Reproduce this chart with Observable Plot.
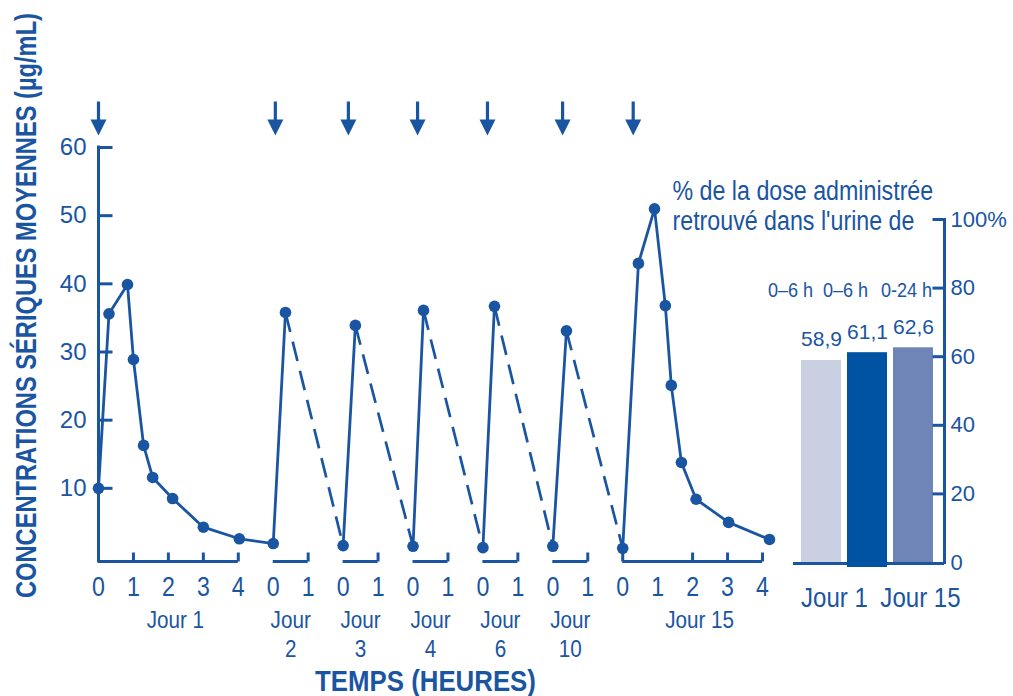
<!DOCTYPE html>
<html><head><meta charset="utf-8">
<script src="https://cdn.jsdelivr.net/npm/d3@7"></script>
<script src="https://cdn.jsdelivr.net/npm/@observablehq/plot@0.6"></script>
<style>
html,body{margin:0;padding:0;background:#fff;}
#wrap{position:relative;width:1013px;height:696px;overflow:hidden;background:#fff;}
#wrap svg{position:absolute;left:0;top:0;}
</style></head><body><div id="wrap"></div>
<script>
// ---------- data ----------
const days = ["Jour 1","Jour 2","Jour 3","Jour 4","Jour 6","Jour 10","Jour 15"];
const dayOffset = [0,5,7,9,11,13,15];      // hour 0 of each day on the broken time axis
const daySpan = [4,1,1,1,1,1,4];
const dayTickHours = [[1,2,3,4],[1],[1],[1],[1],[1],[0,2,3,4]];
const dayLabelHours = [[0,1,2,3,4],[0,1],[0,1],[0,1],[0,1],[0,1],[0,1,2,3,4]];
const dayNames = ["Jour 1","Jour\n2","Jour\n3","Jour\n4","Jour\n6","Jour\n10","Jour 15"];

const jour1Hours = [0, 0.3, 0.83, 1.0, 1.29, 1.55, 2.12, 3.0, 4.03];
const jour1Conc  = [10, 35.6, 39.9, 28.9, 16.3, 11.6, 8.5, 4.3, 2.6];

const midDays    = ["Jour 2","Jour 3","Jour 4","Jour 6","Jour 10"];
const troughConc = [1.9, 1.6, 1.5, 1.3, 1.5];
const peakHour   = [0.35, 0.35, 0.3, 0.33, 0.39];
const peakConc   = [35.8, 33.9, 36.1, 36.7, 33.1];

const jour15Hours = [0, 0.45, 0.91, 1.22, 1.39, 1.68, 2.1, 3.03, 4.2];
const jour15Conc  = [1.2, 43.0, 51.0, 36.8, 25.1, 13.8, 8.4, 5.0, 2.5];

const doseHours = [0, 0.06, 0.15, 0.13, 0.13, 0.28, 0.3];

const concTicks = [10,20,30,40,50,60];

const barKeys    = ["a","b","c"];
const barPeriods = ["0–6 h","0–6 h","0-24 h"];
const barDays    = ["Jour 1","Jour 1","Jour 15"];
const barValues  = [58.9, 61.1, 62.6];
const barLabels  = ["58,9","61,1","62,6"];
const barColors  = ["#c9d0e2","#0052a3","#6f85b7"];
const pctTicks   = [0,20,40,60,80,100];
const pctTickLabels = ["0","20","40","60","80","100%"];

const yTitle = "CONCENTRATIONS SÉRIQUES MOYENNES (µg/mL)";
const xTitle = "TEMPS (HEURES)";
const barTitle = "% de la dose administrée\nretrouvé dans l'urine de";

// ---------- derived tables ----------
const blue = "#1a55a2";
const NARROW = "'Liberation Sans', narrowed";   // condensed after rendering
const REG = "'Liberation Sans', Arial, sans-serif";

const points = [];
jour1Hours.forEach((h,i)=>points.push({v: dayOffset[0]+h, conc: jour1Conc[i], seg: 0}));
midDays.forEach((d,i)=>{
  const k = days.indexOf(d);
  points.push({v: dayOffset[k], conc: troughConc[i], seg: i});
  points.push({v: dayOffset[k]+peakHour[i], conc: peakConc[i], seg: i});
});
jour15Hours.forEach((h,i)=>points.push({v: dayOffset[6]+h, conc: jour15Conc[i], seg: 5}));

const dashes = midDays.map((d,i)=>{
  const k = days.indexOf(d);
  const x1 = dayOffset[k]+peakHour[i], y1 = peakConc[i];
  let x2, y2;
  if (i < midDays.length-1) { const k2 = days.indexOf(midDays[i+1]); x2 = dayOffset[k2]; y2 = troughConc[i+1]; }
  else { x2 = dayOffset[6]+jour15Hours[0]; y2 = jour15Conc[0]; }
  return {x1,y1,x2,y2};
});

const axisSegs = days.map((d,i)=>({start: dayOffset[i], end: dayOffset[i]+daySpan[i]}));
const xTicks = days.flatMap((d,i)=>dayTickHours[i].map(h=>({v: dayOffset[i]+h})));
const xLabels = days.flatMap((d,i)=>dayLabelHours[i].map(h=>({v: dayOffset[i]+h, label: String(h)})));
const dayLabelData = days.map((d,i)=>({v: dayOffset[i]+daySpan[i]/2 + (daySpan[i]>1?0.2:0), label: dayNames[i]}));
const doses = days.map((d,i)=>({v: dayOffset[i]+doseHours[i]}));

const bars = barKeys.map((k,i)=>({key:k, period:barPeriods[i], day:barDays[i], value:barValues[i], label:barLabels[i], color:barColors[i]}));

// ---------- symbols ----------
const tickUp = {draw(c){ c.moveTo(0,0); c.lineTo(0,-9); }};
const tickRight = {draw(c){ c.moveTo(0,0); c.lineTo(14,0); }};
const tickLeft = {draw(c){ c.moveTo(0,0); c.lineTo(-12,0); }};
const doseArrow = {draw(c){
  c.moveTo(-1.6,-46); c.lineTo(1.6,-46); c.lineTo(1.6,-28); c.lineTo(8,-28);
  c.lineTo(0,-12); c.lineTo(-8,-28); c.lineTo(-1.6,-28); c.closePath();
}};

// ---------- left chart ----------
const left = Plot.plot({
  width: 1013, height: 696,
  marginLeft: 98, marginRight: 251, marginTop: 147, marginBottom: 135,
  style: {background: "transparent", overflow: "visible"},
  x: {domain: [0,19], range: [98,762], axis: null},
  y: {domain: [0,60], range: [556,147], axis: null},
  marks: [
    Plot.ruleX([0], {stroke: blue, strokeWidth: 3, strokeLinecap: "square"}),
    Plot.ruleY(axisSegs, {x1: "start", x2: "end", y: () => 0, dy: 5, stroke: blue, strokeWidth: 3}),
    Plot.dot(xTicks, {x: "v", frameAnchor: "bottom", symbol: tickUp, stroke: blue, strokeWidth: 3, fill: "none"}),
    Plot.dot(concTicks, {y: d=>d, frameAnchor: "left", symbol: tickRight, stroke: blue, strokeWidth: 3, fill: "none"}),
    Plot.text(concTicks, {y: d=>d, frameAnchor: "left", dx: -12, textAnchor: "end", lineAnchor: "middle", text: d=>String(d), fill: blue, fontSize: 24, fontFamily: REG}),
    Plot.text(xLabels, {x: "v", frameAnchor: "bottom", dy: 26, lineAnchor: "middle", text: "label", fill: blue, fontSize: 27, fontFamily: NARROW}),
    Plot.text(dayLabelData, {x: "v", frameAnchor: "bottom", dy: 46, lineAnchor: "top", lineHeight: 1.2, text: "label", fill: blue, fontSize: 24, fontFamily: NARROW}),
    Plot.text([xTitle], {frameAnchor: "bottom", dx: -5, dy: 120, lineAnchor: "middle", text: d=>d, fill: blue, fontSize: 30, fontWeight: "bold", fontFamily: NARROW}),
    Plot.text([yTitle], {frameAnchor: "left", dx: -72, dy: -49, rotate: -90, textAnchor: "middle", lineAnchor: "middle", text: d=>d, fill: blue, fontSize: 30, fontWeight: "bold", fontFamily: NARROW}),
    Plot.dot(doses, {x: "v", frameAnchor: "top", symbol: doseArrow, fill: blue, stroke: "none"}),
    Plot.link(dashes, {x1: "x1", y1: "y1", x2: "x2", y2: "y2", stroke: blue, strokeWidth: 2.7, strokeDasharray: "20,10"}),
    Plot.line(points, {x: "v", y: "conc", z: "seg", stroke: blue, strokeWidth: 2.8}),
    Plot.dot(points, {x: "v", y: "conc", r: 5.8, fill: blue, stroke: "none"})
  ]
});

// ---------- right chart ----------
const right = Plot.plot({
  width: 1013, height: 696,
  marginLeft: 793, marginRight: 69, marginTop: 219, marginBottom: 134,
  style: {background: "transparent", overflow: "visible"},
  x: {type: "band", domain: barKeys, range: [798,936], paddingInner: 0.13, paddingOuter: 0.065, axis: null},
  y: {domain: [0,100], range: [562,219], axis: null},
  color: {type: "identity"},
  marks: [
    Plot.ruleY([0], {dy: 1, stroke: blue, strokeWidth: 3}),
    Plot.frame({anchor: "right", stroke: blue, strokeWidth: 3}),
    Plot.barY(bars, {x: "key", y: "value", fill: "color"}),
    Plot.barY(bars, {filter: d=>d.key==="b", x: "key", y: "value", fill: "color", insetBottom: -5}),
    Plot.text(bars, {x: "key", y: "value", dy: -14, lineAnchor: "bottom", text: "label", fill: blue, fontSize: 21, fontFamily: REG}),
    Plot.text(bars, {filter: d=>d.key==="a", x: "key", frameAnchor: "top", dy: 71, dx: -31, lineAnchor: "middle", text: "period", fill: blue, fontSize: 21, fontFamily: NARROW}),
    Plot.text(bars, {filter: d=>d.key==="b", x: "key", frameAnchor: "top", dy: 71, dx: -22, lineAnchor: "middle", text: "period", fill: blue, fontSize: 21, fontFamily: NARROW}),
    Plot.text(bars, {filter: d=>d.key==="c", x: "key", frameAnchor: "top", dy: 71, dx: -7, lineAnchor: "middle", text: "period", fill: blue, fontSize: 21, fontFamily: NARROW}),
    Plot.text(bars, {filter: d=>d.key==="a", x: "key", frameAnchor: "bottom", dy: 36, dx: 13, lineAnchor: "middle", text: "day", fill: blue, fontSize: 28, fontFamily: NARROW}),
    Plot.text(bars, {filter: d=>d.key==="c", x: "key", frameAnchor: "bottom", dy: 36, dx: 7, lineAnchor: "middle", text: "day", fill: blue, fontSize: 28, fontFamily: NARROW}),
    Plot.dot(pctTicks.slice(1), {y: d=>d, frameAnchor: "right", symbol: tickLeft, stroke: blue, strokeWidth: 3, fill: "none"}),
    Plot.text(pctTicks, {y: d=>d, frameAnchor: "right", dx: 6, textAnchor: "start", lineAnchor: "middle", text: (d,i)=>pctTickLabels[i], fill: blue, fontSize: 22, fontFamily: REG}),
    Plot.text([barTitle], {frameAnchor: "top-left", dx: -121, dy: 10, textAnchor: "start", lineAnchor: "bottom", lineHeight: 1.11, text: d=>d, fill: blue, fontSize: 27, fontFamily: NARROW})
  ]
});

const wrap = document.getElementById("wrap");
wrap.appendChild(left);
wrap.appendChild(right);

// Condense the "narrow" texts (no condensed font is installed): Arial-Narrow-like widths.
const targetWidths = new Map([[yTitle, 585]]);
const FACTOR = 0.86;
function condense(svg) {
  svg.querySelectorAll("g[font-family]").forEach(g => {
    if (!g.getAttribute("font-family").includes("narrowed")) return;
    g.querySelectorAll("text").forEach(t => {
      const spans = t.querySelectorAll("tspan");
      const els = spans.length ? Array.from(spans) : [t];
      els.forEach(el => {
        const w = el.getComputedTextLength();
        const target = targetWidths.get(el.textContent) ?? w * FACTOR;
        el.setAttribute("textLength", target.toFixed(1));
        el.setAttribute("lengthAdjust", "spacingAndGlyphs");
      });
    });
  });
}
condense(left);
condense(right);
</script></body></html>
